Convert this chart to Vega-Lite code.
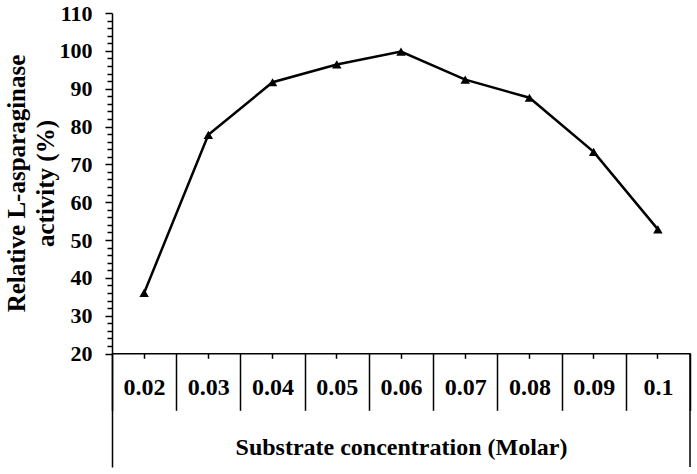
{
  "$schema": "https://vega.github.io/schema/vega-lite/v6.json",
  "width": 578,
  "height": 454,
  "autosize": "none",
  "padding": {"left": 112, "top": 13, "right": 7, "bottom": 7},
  "background": "white",
  "config": {
    "view": {"stroke": null},
    "font": "Liberation Serif",
    "axis": {"domainColor": "black", "tickColor": "black", "labelColor": "black", "titleColor": "black", "grid": false, "labelFont": "Liberation Serif", "titleFont": "Liberation Serif", "labelFontWeight": "bold", "titleFontWeight": "bold", "domainWidth": 1.5, "tickWidth": 1.5, "ticks": true}
  },
  "layer": [
    {
      "data": {"values": [
        {"conc": "0.02", "activity": 36},
        {"conc": "0.03", "activity": 77.8},
        {"conc": "0.04", "activity": 91.7},
        {"conc": "0.05", "activity": 96.4},
        {"conc": "0.06", "activity": 99.8},
        {"conc": "0.07", "activity": 92.4},
        {"conc": "0.08", "activity": 87.6},
        {"conc": "0.09", "activity": 73.3},
        {"conc": "0.1", "activity": 52.8}
      ]},
      "mark": {"type": "line", "color": "black", "strokeWidth": 2.5, "point": {"shape": "triangle-up", "filled": true, "size": 90, "color": "black"}},
      "encoding": {
        "x": {"field": "conc", "type": "ordinal", "scale": {"type": "band", "paddingInner": 0, "paddingOuter": 0},
          "axis": {"orient": "bottom", "offset": -113.7, "tickBand": "extent", "tickSize": 57, "labelPadding": -16, "labelBaseline": "alphabetic", "labelFontSize": 24, "labelAngle": 0,
            "title": "Substrate concentration (Molar)", "titleFontSize": 24, "titleBaseline": "alphabetic", "titleY": 101}},
        "y": {"field": "activity", "type": "quantitative", "scale": {"domain": [-10, 110], "nice": false, "zero": false},
          "axis": {"orient": "left", "values": [20, 30, 40, 50, 60, 70, 80, 90, 100, 110], "ticks": true, "tickSize": 7, "labelPadding": 13, "labelFontSize": 22, "labelBaseline": "middle", "labelOverlap": false,
            "title": ["Relative L-asparaginase", "activity (%)"], "titleFontSize": 25, "titleLineHeight": 29, "titleAngle": -90, "titleBaseline": "alphabetic", "titleAlign": "center", "titleX": -88, "titleY": 170}}
      }
    },
    {
      "data": {"values": [{"conc": "0.1", "top": 20, "bottom": -10}]},
      "mark": {"type": "rule", "color": "black", "strokeWidth": 1.5},
      "encoding": {
        "x": {"field": "conc", "type": "ordinal", "bandPosition": 1,
          "axis": {"orient": "bottom", "offset": -113.7, "domain": false, "labels": false, "ticks": true, "tickSize": 5, "tickBand": "center", "title": null}},
        "y": {"field": "top", "type": "quantitative",
          "axis": {"orient": "left", "domain": false, "labels": false, "ticks": true, "tickSize": 5, "title": null, "values": [22, 24, 26, 28, 32, 34, 36, 38, 42, 44, 46, 48, 52, 54, 56, 58, 62, 64, 66, 68, 72, 74, 76, 78, 82, 84, 86, 88, 92, 94, 96, 98, 102, 104, 106, 108]}},
        "y2": {"field": "bottom"}
      }
    }
  ],
  "resolve": {"axis": {"x": "independent", "y": "independent"}}
}
